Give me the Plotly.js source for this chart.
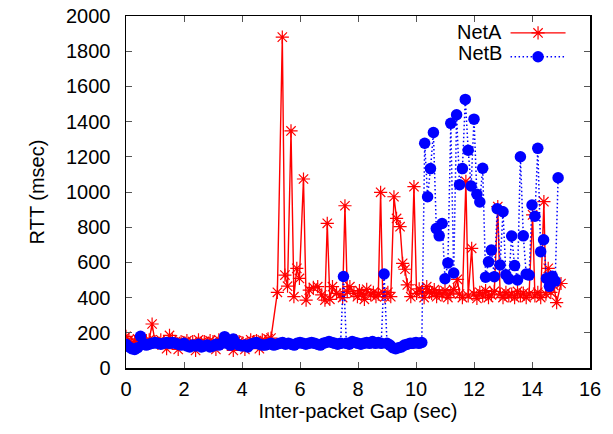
<!DOCTYPE html>
<html><head><meta charset="utf-8">
<script src="https://cdn.plot.ly/plotly-3.0.1.min.js"></script>
<style>html,body{margin:0;padding:0;background:#fff}#chart{width:613px;height:434px}</style>
</head><body><div id="chart"></div>
<script>
// NetA: inter-packet gap (sec) and RTT (msec)
const gapA = [0.0,0.1,0.2,0.3,0.4,0.5,0.6,0.7,0.8,0.9,
  1.0,1.1,1.2,1.3,1.4,1.5,1.6,1.7,1.8,1.9,
  2.0,2.1,2.2,2.3,2.4,2.5,2.6,2.7,2.8,2.9,
  3.0,3.1,3.2,3.3,3.4,3.5,3.6,3.7,3.8,3.9,
  4.0,4.1,4.2,4.3,4.4,4.5,4.6,4.7,4.8,4.9,
  5.0,5.22,5.39,5.48,5.57,5.69,5.79,5.89,5.98,6.12,
  6.21,6.32,6.46,6.61,6.75,6.86,6.94,7.03,7.12,7.26,
  7.38,7.47,7.55,7.63,7.72,7.86,7.98,8.05,8.13,8.22,
  8.30,8.44,8.53,8.62,8.70,8.78,8.85,8.93,9.03,9.13,
  9.24,9.33,9.45,9.54,9.62,9.70,9.82,9.93,10.02,10.11,
  10.2,10.28,10.37,10.46,10.54,10.63,10.71,10.8,10.9,11.0,
  11.1,11.2,11.3,11.43,11.5,11.6,11.72,11.8,11.92,12.0,
  12.1,12.2,12.3,12.4,12.5,12.6,12.7,12.82,12.9,13.0,
  13.1,13.2,13.3,13.4,13.5,13.6,13.7,13.8,13.9,14.02,
  14.1,14.2,14.3,14.41,14.48,14.56,14.65,14.75,14.85,15.0];
const rttA = [180,160,140,150,165,150,140,155,160,250,
  150,140,160,145,110,185,160,150,105,150,
  145,155,135,150,100,160,145,150,140,155,
  150,105,160,140,150,145,150,100,155,150,
  145,105,140,160,150,155,110,160,150,165,
  170,430,1880,528,465,1347,405,566,509,1074,
  386,443,458,462,415,386,822,390,462,424,
  415,400,922,434,462,424,405,440,424,390,
  447,415,430,405,420,998,430,405,430,405,
  973,850,803,595,561,472,405,1030,424,450,
  434,400,462,430,424,445,405,430,415,440,
  400,425,445,504,420,400,1060,410,680,420,
  395,430,410,440,400,415,435,917,420,400,
  430,410,420,400,435,410,425,400,420,870,
  410,430,400,945,420,566,430,470,372,480];

// NetB
const gapB = [0.0,0.1,0.2,0.3,0.4,0.5,0.6,0.7,0.8,0.9,
  1.0,1.1,1.2,1.3,1.4,1.5,1.6,1.7,1.8,1.9,
  2.0,2.1,2.2,2.3,2.4,2.5,2.6,2.7,2.8,2.9,
  3.0,3.1,3.2,3.3,3.4,3.5,3.6,3.7,3.8,3.9,
  4.0,4.1,4.2,4.3,4.4,4.5,4.6,4.7,4.8,4.9,
  5.0,5.1,5.2,5.3,5.4,5.5,5.6,5.7,5.8,5.9,
  6.0,6.1,6.2,6.3,6.4,6.5,6.6,6.7,6.8,6.9,
  7.0,7.1,7.2,7.3,7.4,7.5,7.6,7.7,7.8,7.9,
  8.0,8.1,8.2,8.3,8.4,8.5,8.6,8.7,8.8,8.9,
  9.0,9.1,9.2,9.3,9.4,9.5,9.6,9.7,9.8,9.9,
  10.0,10.1,10.2,10.3,10.4,10.5,10.6,10.7,10.8,10.9,
  11.0,11.1,11.2,11.3,11.4,11.5,11.6,11.7,11.8,11.9,
  12.0,12.1,12.2,12.3,12.4,12.5,12.6,12.7,12.8,12.9,
  13.0,13.1,13.2,13.3,13.4,13.5,13.6,13.7,13.8,13.9,
  14.0,14.1,14.2,14.3,14.4,14.5,14.6,14.7,14.8,14.9];
const rttB = [135,120,110,105,115,180,140,130,135,140,
  145,140,135,140,145,140,145,140,135,130,
  140,125,120,130,125,135,120,125,130,120,
  125,135,130,140,178,140,130,165,140,130,
  125,130,120,135,140,145,135,130,130,135,
  140,130,135,140,145,135,140,135,130,140,
  145,140,135,140,145,140,135,130,140,145,
  150,145,140,135,140,520,140,135,150,145,
  140,135,140,145,140,150,140,145,140,534,
  140,130,115,110,115,120,130,135,140,140,
  145,140,145,1277,973,1133,1338,792,751,821,
  507,597,1390,540,1439,1041,1133,1526,1237,1034,
  1414,987,943,1135,516,603,670,519,905,585,
  888,530,506,750,582,500,1200,751,534,528,
  926,862,1248,661,729,509,464,521,494,1081];

const seriesNames = ['NetA', 'NetB'];
const xTitle = 'Inter-packet Gap (sec)';
const yTitle = 'RTT (msec)';

const FONT = 'Liberation Sans, Arial, Helvetica, sans-serif';

const traces = [
  {
    x: gapA, y: rttA, type: 'scatter', mode: 'lines+markers', name: '',
    line: {color: '#ff0000', width: 1.4},
    marker: {symbol: 'asterisk-open', size: 11, color: '#ff0000', line: {color: '#ff0000', width: 1.2}}
  },
  {
    x: gapB, y: rttB, type: 'scatter', mode: 'lines+markers', name: '',
    line: {color: '#0000ff', width: 1.5, dash: '1.5px,2.5px'},
    marker: {symbol: 'circle', size: 11.5, color: '#0000ff'}
  }
];

const axisCommon = {
  showgrid: false, zeroline: false, showline: true, linecolor: '#000', linewidth: 1.5,
  mirror: 'ticks', ticks: 'inside', ticklen: 6, tickwidth: 1, tickcolor: '#555',
  tickfont: {family: FONT, size: 20, color: '#000'}, fixedrange: true
};

const layout = {
  width: 613, height: 434,
  margin: {l: 126, r: 23, t: 16, b: 66},
  paper_bgcolor: '#fff', plot_bgcolor: '#fff',
  font: {family: FONT, size: 20, color: '#000'},
  showlegend: true,
  legend: {x: 0.818, xanchor: 'left', y: 1.0, yanchor: 'top', bgcolor: 'rgba(0,0,0,0)',
           itemwidth: 55, font: {size: 16}, tracegroupgap: 0},
  xaxis: Object.assign({}, axisCommon, {range: [0, 16], dtick: 2, tick0: 0, ticklabelstandoff: 2,
    title: {text: xTitle, font: {family: FONT, size: 20}, standoff: 5}}),
  yaxis: Object.assign({}, axisCommon, {range: [0, 2000], dtick: 200, tick0: 0, ticklabelstandoff: 10,
    title: {text: yTitle, font: {family: FONT, size: 20}, standoff: 16}}),
  annotations: [
    {xref: 'paper', yref: 'paper', x: 0.815, y: 0.9545, xanchor: 'right', yanchor: 'middle',
     text: seriesNames[0], showarrow: false, font: {family: FONT, size: 20}},
    {xref: 'paper', yref: 'paper', x: 0.815, y: 0.895, xanchor: 'right', yanchor: 'middle',
     text: seriesNames[1], showarrow: false, font: {family: FONT, size: 20}}
  ]
};

Plotly.newPlot('chart', traces, layout, {displayModeBar: false, staticPlot: true});
</script>
</body></html>
